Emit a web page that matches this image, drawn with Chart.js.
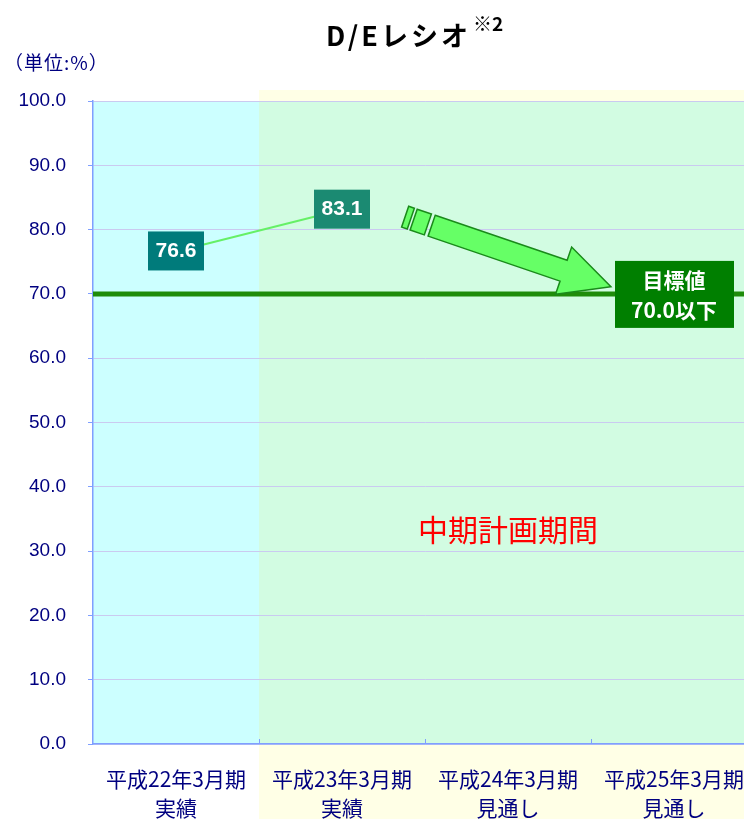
<!DOCTYPE html>
<html>
<head>
<meta charset="utf-8">
<script src="https://cdn.jsdelivr.net/npm/chart.js@4.4.1/dist/chart.umd.min.js"></script>
<style>
  body { margin: 0; background: #fff; overflow: hidden; }
  #wrap { width: 760px; height: 819px; }
</style>
</head>
<body>
<div id="wrap"><canvas id="deChart" width="760" height="819"></canvas></div>
<script>
// chart data
const periods = [
    ['平成22年3月期', '実績'],
    ['平成23年3月期', '実績'],
    ['平成24年3月期', '見通し'],
    ['平成25年3月期', '見通し']
];
const deRatio = [76.6, 83.1, null, null];
const labelColors = ['#007b7b', '#1b8a72'];
const targetValue = 70.0;
const yTicks = { min: 0, max: 100, step: 10 };

const jpFont = '"Noto Sans CJK JP", sans-serif';
const numFont = '"Liberation Sans", Arial, sans-serif';

// backgrounds, arrow, labels
const decoPlugin = {
    id: 'deco',
    beforeDraw(chart) {
        const ctx = chart.ctx;
        const area = chart.chartArea;
        const x = chart.scales.x;
        const split = (x.getPixelForValue(0) + x.getPixelForValue(1)) / 2;
        ctx.save();
        ctx.fillStyle = '#ffffe6';
        ctx.fillRect(split, area.top - 11, chart.width - split, chart.height - area.top + 11);
        ctx.fillStyle = '#ccffff';
        ctx.fillRect(area.left, area.top, split - area.left, area.bottom - area.top);
        ctx.fillStyle = '#d2fce2';
        ctx.fillRect(split, area.top, area.right - split, area.bottom - area.top);
        ctx.restore();
    },
    afterDatasetsDraw(chart) {
        const ctx = chart.ctx;
        const area = chart.chartArea;
        const x = chart.scales.x;
        const y = chart.scales.y;
        ctx.save();

        // category boundary ticks on the x axis
        ctx.strokeStyle = '#7f9fff';
        ctx.lineWidth = 1;
        for (let i = 0; i < periods.length - 1; i++) {
            const bx = Math.round((x.getPixelForValue(i) + x.getPixelForValue(i + 1)) / 2) + 0.5;
            ctx.beginPath();
            ctx.moveTo(bx, area.bottom);
            ctx.lineTo(bx, area.bottom - 5);
            ctx.stroke();
        }

        // target line
        const ty = y.getPixelForValue(targetValue);
        ctx.strokeStyle = '#1f8c0a';
        ctx.lineWidth = 5;
        ctx.beginPath();
        ctx.moveTo(area.left, ty);
        ctx.lineTo(area.right + 10, ty);
        ctx.stroke();

        // big arrow pointing at the target
        const sx = x.getPixelForValue(1.54), sy = y.getPixelForValue(80.6);
        const ex = x.getPixelForValue(2.62), ey = y.getPixelForValue(71.1);
        const ang = Math.atan2(ey - sy, ex - sx);
        const len = Math.hypot(ex - sx, ey - sy);
        ctx.translate(sx, sy);
        ctx.rotate(ang);
        ctx.fillStyle = '#66ff66';
        ctx.strokeStyle = '#1a8a1a';
        ctx.lineWidth = 1.5;
        const hw = 11, headW = 25, headL = 50;
        ctx.beginPath();
        ctx.moveTo(0, -hw);
        ctx.lineTo(len - headL, -hw);
        ctx.lineTo(len - headL, -headW);
        ctx.lineTo(len, 0);
        ctx.lineTo(len - headL, headW);
        ctx.lineTo(len - headL, hw);
        ctx.lineTo(0, hw);
        ctx.closePath();
        ctx.fill();
        ctx.stroke();
        [[-19, -4], [-28, -22]].forEach(function (seg) {
            ctx.beginPath();
            ctx.rect(seg[0], -hw, seg[1] - seg[0], hw * 2);
            ctx.fill();
            ctx.stroke();
        });
        ctx.setTransform(1, 0, 0, 1, 0, 0);

        // value boxes
        ctx.textAlign = 'center';
        ctx.textBaseline = 'middle';
        ctx.font = 'bold 21px ' + numFont;
        deRatio.forEach(function (v, i) {
            if (v === null) return;
            const px = x.getPixelForValue(i);
            const py = y.getPixelForValue(v);
            ctx.fillStyle = labelColors[i];
            ctx.fillRect(px - 28, py - 20, 56, 39);
            ctx.fillStyle = '#ffffff';
            ctx.fillText(v.toFixed(1), px, py);
        });

        // target box
        const bx = x.getPixelForValue(3);
        ctx.fillStyle = '#007f00';
        ctx.fillRect(bx - 59, ty - 33, 119, 67);
        ctx.fillStyle = '#ffffff';
        ctx.font = 'bold 21px ' + jpFont;
        ctx.fillText('目標値', bx, ty - 14);
        ctx.fillText(targetValue.toFixed(1) + '以下', bx, ty + 16);

        // plan period caption
        const cx = (x.getPixelForValue(0.5) + area.right) / 2;
        ctx.fillStyle = '#ff0000';
        ctx.font = '30px ' + jpFont;
        ctx.fillText('中期計画期間', cx, y.getPixelForValue(33.3));

        ctx.restore();
    },
    afterDraw(chart) {
        const ctx = chart.ctx;
        ctx.save();
        ctx.fillStyle = '#000000';
        ctx.textBaseline = 'alphabetic';
        ctx.textAlign = 'left';
        ctx.font = 'bold 27px ' + jpFont;
        ctx.letterSpacing = '3px';
        ctx.fillText('D/Eレシオ', 326, 46);
        const w = ctx.measureText('D/Eレシオ').width;
        ctx.letterSpacing = '0px';
        ctx.font = 'bold 19px ' + jpFont;
        ctx.fillText('※2', 326 + w + 2, 31);

        ctx.fillStyle = '#000080';
        ctx.font = '19px ' + jpFont;
        ctx.letterSpacing = '1px';
        ctx.fillText('（単位:%）', 4, 70);
        ctx.restore();
    }
};

const ctx = document.getElementById('deChart').getContext('2d');

new Chart(ctx, {
    type: 'line',
    data: {
        labels: periods,
        datasets: [{
            label: 'D/Eレシオ',
            data: deRatio,
            borderColor: '#66f066',
            borderWidth: 2,
            pointRadius: 0,
            fill: false,
            spanGaps: false
        }]
    },
    options: {
        responsive: false,
        animation: false,
        layout: {
            padding: { top: 101, right: 3, left: 0, bottom: 0 }
        },
        plugins: {
            legend: { display: false },
            title: { display: false },
            tooltip: { enabled: false }
        },
        scales: {
            x: {
                offset: true,
                grid: { display: false },
                border: { color: '#7f9fff', width: 1.5 },
                ticks: {
                    color: '#000080',
                    padding: 13,
                    maxRotation: 0,
                    autoSkip: false,
                    font: { family: jpFont, size: 21, lineHeight: 1.35 }
                },
                afterFit: function (scale) { scale.height = 75; }
            },
            y: {
                min: yTicks.min,
                max: yTicks.max,
                grid: { color: '#cacaf0', tickLength: 5, tickColor: '#7f9fff' },
                border: { color: '#7f9fff', width: 1.5 },
                ticks: {
                    stepSize: yTicks.step,
                    color: '#000080',
                    padding: 22,
                    font: { family: numFont, size: 19 },
                    callback: function (v) { return v.toFixed(1); }
                },
                afterFit: function (scale) { scale.width = 93; }
            }
        }
    },
    plugins: [decoPlugin]
});
</script>
</body>
</html>
